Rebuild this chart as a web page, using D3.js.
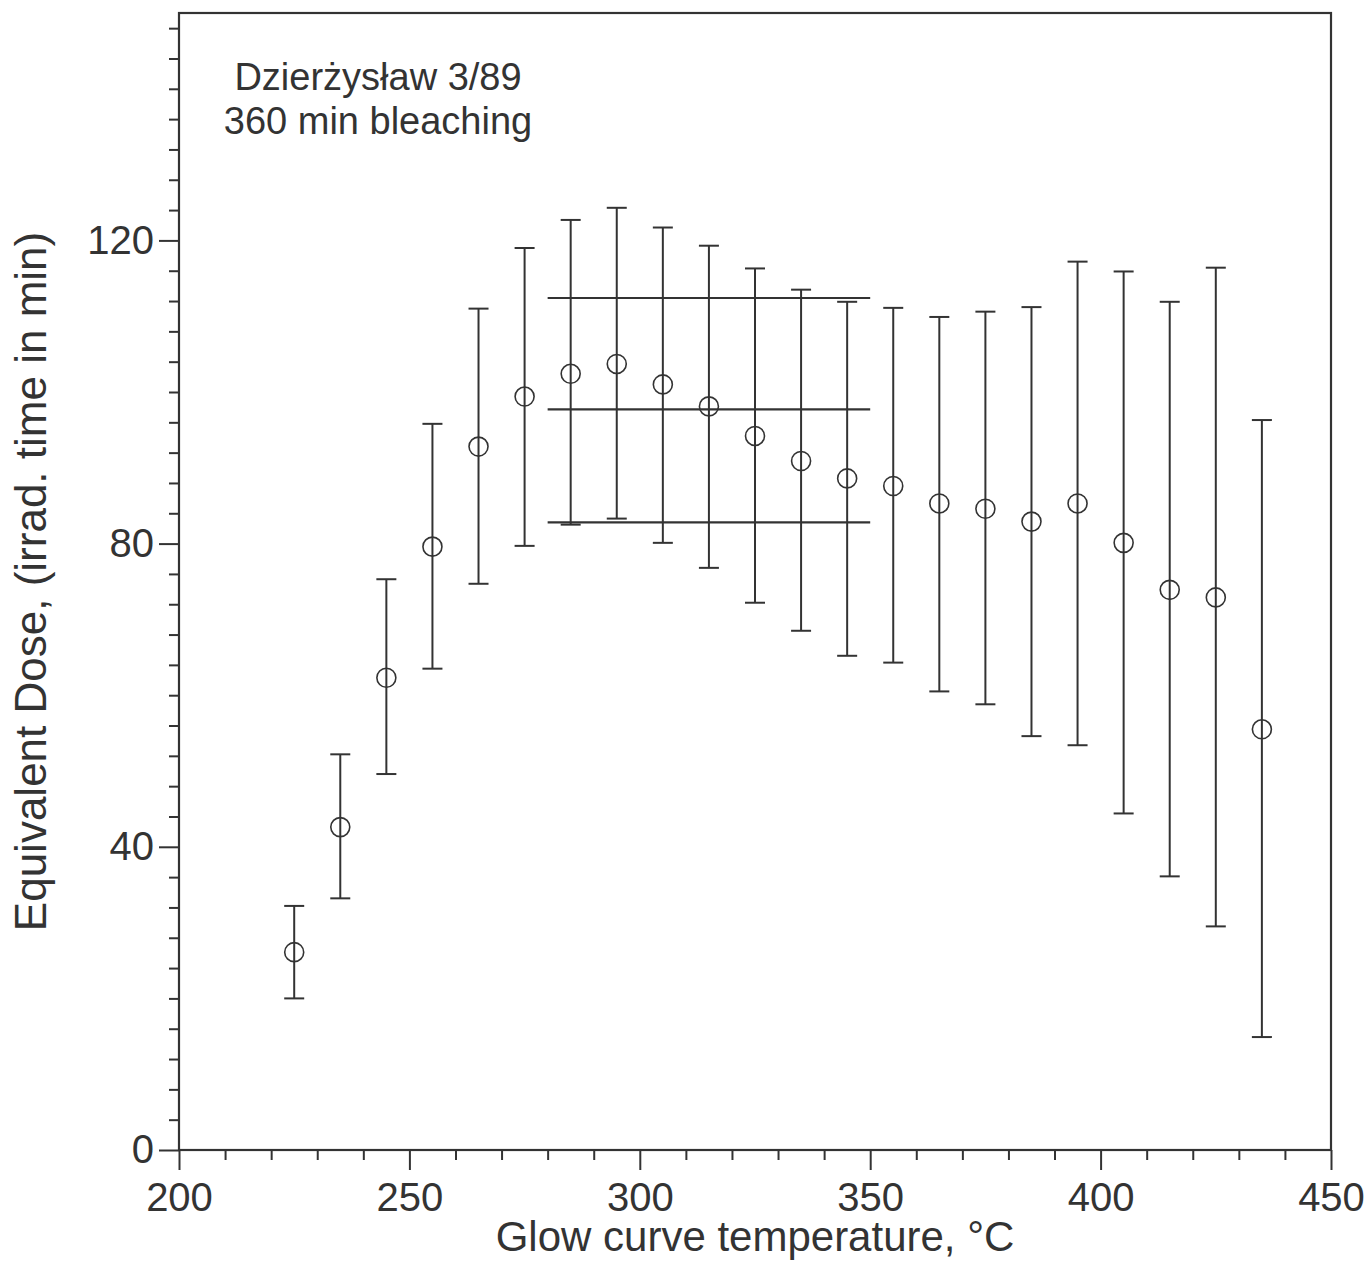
<!DOCTYPE html>
<html>
<head>
<meta charset="utf-8">
<script src="https://cdn.jsdelivr.net/npm/d3@7"></script>
<style>
  body { margin: 0; background: #fff; }
  text { font-family: "Liberation Sans", Arial, sans-serif; fill: #333; }
</style>
</head>
<body>
<div id="chart"></div>
<script>
// temperatures (°C) and equivalent dose with error bar bounds
const temps = [225, 235, 245, 255, 265, 275, 285, 295, 305, 315, 325, 335, 345, 355, 365, 375, 385, 395, 405, 415, 425, 435];
const doses = [26.1, 42.6, 62.3, 79.6, 92.8, 99.4, 102.4, 103.7, 101.0, 98.1, 94.2, 90.9, 88.6, 87.6, 85.3, 84.6, 82.9, 85.3, 80.1, 73.9, 72.9, 55.5];
const upper = [32.2, 52.2, 75.3, 95.8, 111.0, 119.0, 122.7, 124.3, 121.7, 119.3, 116.3, 113.5, 111.9, 111.1, 109.9, 110.6, 111.2, 117.2, 115.9, 111.9, 116.4, 96.3];
const lower = [20.0, 33.2, 49.6, 63.5, 74.7, 79.7, 82.5, 83.3, 80.1, 76.8, 72.2, 68.5, 65.2, 64.3, 60.5, 58.8, 54.6, 53.4, 44.4, 36.1, 29.5, 14.9];

// plateau mean and bounds over 280–350 °C
const plateauRange = [280, 350];
const plateauLevels = [112.4, 97.7, 82.8];

const xTicks = [200, 250, 300, 350, 400, 450];
const yTicks = [0, 40, 80, 120];

const width = 1368;
const height = 1264;
const margin = { top: 13, right: 37, bottom: 114, left: 179 };

const svg = d3.select("#chart")
  .append("svg")
  .attr("width", width)
  .attr("height", height);

const xScale = d3.scaleLinear().domain([200, 450]).range([margin.left, width - margin.right]);
const yScale = d3.scaleLinear().domain([0, 150]).range([height - margin.bottom, margin.top]);

const ink = "#333";

// frame
svg.append("rect")
  .attr("x", margin.left)
  .attr("y", margin.top)
  .attr("width", xScale(450) - margin.left)
  .attr("height", yScale(0) - margin.top)
  .attr("fill", "none")
  .attr("stroke", ink)
  .attr("stroke-width", 2.2);

// x axis: minor every 10, major every 50
const xAxisMinor = d3.axisBottom(xScale)
  .tickValues(d3.range(200, 451, 10).filter(v => !xTicks.includes(v)))
  .tickSize(10).tickFormat("");
const xAxisMajor = d3.axisBottom(xScale)
  .tickValues(xTicks).tickSize(20).tickPadding(13).tickFormat(d3.format("d"));

[xAxisMinor, xAxisMajor].forEach(ax => {
  const g = svg.append("g")
    .attr("transform", `translate(0, ${yScale(0)})`)
    .call(ax);
  g.select(".domain").remove();
  g.selectAll("line").attr("stroke", ink).attr("stroke-width", 2);
  g.selectAll("text").attr("font-size", 40).attr("fill", ink);
});

// y axis: minor every 4, major every 40
const yAxisMinor = d3.axisLeft(yScale)
  .tickValues(d3.range(0, 151, 4).filter(v => !yTicks.includes(v)))
  .tickSize(10).tickFormat("");
const yAxisMajor = d3.axisLeft(yScale)
  .tickValues(yTicks).tickSize(20).tickPadding(5).tickFormat(d3.format("d"));

[yAxisMinor, yAxisMajor].forEach(ax => {
  const g = svg.append("g")
    .attr("transform", `translate(${margin.left}, 0)`)
    .call(ax);
  g.select(".domain").remove();
  g.selectAll("line").attr("stroke", ink).attr("stroke-width", 2);
  g.selectAll("text").attr("font-size", 40).attr("fill", ink);
});

// axis titles
svg.append("text")
  .attr("x", xScale(325))
  .attr("y", 1251)
  .attr("text-anchor", "middle")
  .attr("font-size", 42)
  .text("Glow curve temperature, °C");

svg.append("text")
  .attr("transform", `translate(46, ${yScale(75)}) rotate(-90)`)
  .attr("text-anchor", "middle")
  .attr("font-size", 44)
  .text("Equivalent Dose, (irrad. time in min)");

// annotation
const note = svg.append("text")
  .attr("text-anchor", "middle")
  .attr("font-size", 38);
note.append("tspan").attr("x", 378).attr("y", 90).text("Dzierżysław 3/89");
note.append("tspan").attr("x", 378).attr("y", 134).text("360 min bleaching");

// plateau lines
svg.append("g")
  .selectAll("line")
  .data(plateauLevels)
  .join("line")
  .attr("x1", xScale(plateauRange[0]))
  .attr("x2", xScale(plateauRange[1]))
  .attr("y1", d => yScale(d))
  .attr("y2", d => yScale(d))
  .attr("stroke", ink)
  .attr("stroke-width", 2.2);

// error bars
const points = temps.map((t, i) => ({ t, d: doses[i], hi: upper[i], lo: lower[i] }));
const capHalf = 10;

const bars = svg.append("g").attr("stroke", ink).attr("stroke-width", 2);
bars.selectAll(".stem")
  .data(points)
  .join("line")
  .attr("class", "stem")
  .attr("x1", d => xScale(d.t)).attr("x2", d => xScale(d.t))
  .attr("y1", d => yScale(d.hi)).attr("y2", d => yScale(d.lo));
bars.selectAll(".capTop")
  .data(points)
  .join("line")
  .attr("class", "capTop")
  .attr("x1", d => xScale(d.t) - capHalf).attr("x2", d => xScale(d.t) + capHalf)
  .attr("y1", d => yScale(d.hi)).attr("y2", d => yScale(d.hi));
bars.selectAll(".capBot")
  .data(points)
  .join("line")
  .attr("class", "capBot")
  .attr("x1", d => xScale(d.t) - capHalf).attr("x2", d => xScale(d.t) + capHalf)
  .attr("y1", d => yScale(d.lo)).attr("y2", d => yScale(d.lo));

// circles
svg.append("g")
  .selectAll("circle")
  .data(points)
  .join("circle")
  .attr("cx", d => xScale(d.t))
  .attr("cy", d => yScale(d.d))
  .attr("r", 9.5)
  .attr("fill", "none")
  .attr("stroke", ink)
  .attr("stroke-width", 1.6);
</script>
</body>
</html>
